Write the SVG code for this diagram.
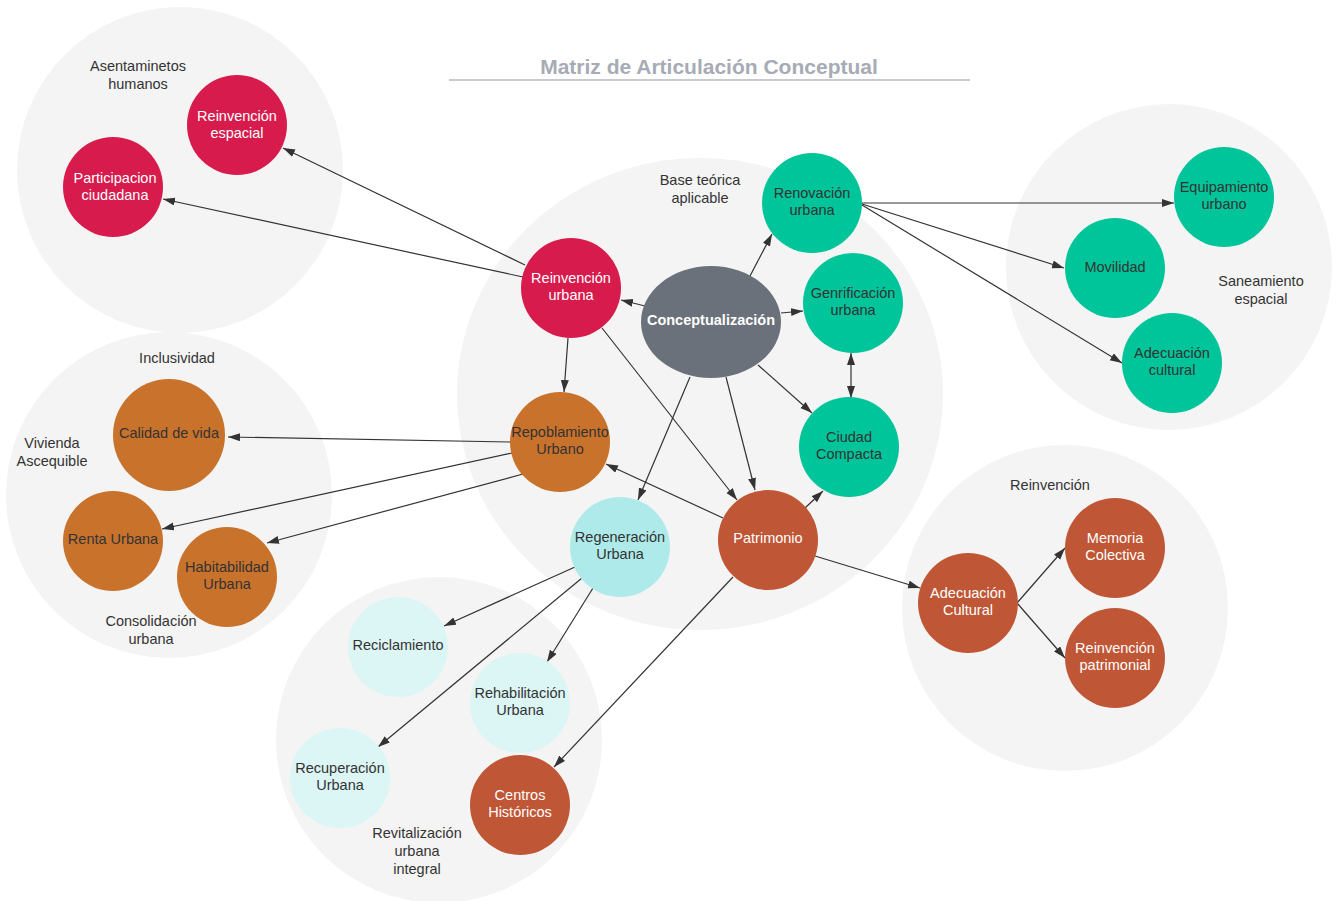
<svg xmlns="http://www.w3.org/2000/svg" width="1338" height="901" viewBox="0 0 1338 901">
<style>
text{font-family:"Liberation Sans",Arial,sans-serif;font-size:14.5px;text-anchor:middle;dominant-baseline:central}
.bg{fill:#f4f4f4}
.lbl{fill:#333333}
.dk{fill:#333333}
.wt{fill:#ffffff}
.red{fill:#d81b4d}
.grn{fill:#00c49a}
.org{fill:#c8722c}
.rst{fill:#bf5736}
.cy1{fill:#aeeaea}
.cy2{fill:#dcf5f5}
.edge line{stroke:#333333;stroke-width:1.2;fill:none;marker-end:url(#ah)}
</style>
<defs>
<marker id="ah" markerUnits="userSpaceOnUse" markerWidth="13" markerHeight="9" refX="12" refY="4" orient="auto"><path d="M0,0 L12,4 L0,8 z" fill="#333333"/></marker>
<marker id="ahs" markerUnits="userSpaceOnUse" markerWidth="13" markerHeight="9" refX="12" refY="4" orient="auto-start-reverse"><path d="M0,0 L12,4 L0,8 z" fill="#333333"/></marker>
</defs>
<rect width="1338" height="901" fill="#ffffff"/>
<g id="backgrounds">
<circle class="bg" cx="180" cy="170" r="163"/>
<circle class="bg" cx="169" cy="495" r="163"/>
<ellipse class="bg" cx="700" cy="394" rx="243" ry="236"/>
<circle class="bg" cx="1169" cy="267" r="163"/>
<circle class="bg" cx="1065" cy="608" r="163"/>
<circle class="bg" cx="439" cy="740" r="163"/>
</g>
<g id="title">
<text x="709" y="66" style="font-size:21px;font-weight:bold;fill:#a6abb5">Matriz de Articulación Conceptual</text>
<line x1="449" y1="80" x2="970" y2="80" stroke="#b5b9c2" stroke-width="1.5"/>
</g>
<g id="group-labels">
<text class="lbl" x="138" y="66">Asentaminetos</text><text class="lbl" x="138" y="84">humanos</text>
<text class="lbl" x="700" y="180">Base teórica</text><text class="lbl" x="700" y="198">aplicable</text>
<text class="lbl" x="1261" y="281">Saneamiento</text><text class="lbl" x="1261" y="299">espacial</text>
<text class="lbl" x="177" y="358">Inclusividad</text>
<text class="lbl" x="52" y="443">Vivienda</text><text class="lbl" x="52" y="461">Ascequible</text>
<text class="lbl" x="151" y="621">Consolidación</text><text class="lbl" x="151" y="639">urbana</text>
<text class="lbl" x="1050" y="485">Reinvención</text>
<text class="lbl" x="417" y="833">Revitalización</text><text class="lbl" x="417" y="851">urbana</text><text class="lbl" x="417" y="869">integral</text>
</g>
<g id="connectors" class="edge">
<line x1="525" y1="265" x2="283" y2="148"/>
<line x1="523" y1="277" x2="163" y2="199"/>
<line x1="645" y1="306" x2="621" y2="300"/>
<line x1="750" y1="276" x2="772" y2="234"/>
<line x1="781" y1="313" x2="803" y2="311"/>
<line x1="851" y1="353" x2="851" y2="398" style="marker-start:url(#ahs)"/>
<line x1="758" y1="365" x2="812" y2="413"/>
<line x1="726" y1="377" x2="755" y2="490"/>
<line x1="690" y1="377" x2="638" y2="500"/>
<line x1="568" y1="338" x2="564" y2="392"/>
<line x1="602" y1="328" x2="737" y2="500"/>
<line x1="723" y1="518" x2="606" y2="464"/>
<line x1="805" y1="508" x2="823" y2="491"/>
<line x1="815" y1="556" x2="920" y2="588"/>
<line x1="733" y1="577" x2="554" y2="767"/>
<line x1="511" y1="442" x2="228" y2="437"/>
<line x1="512" y1="453" x2="162" y2="529"/>
<line x1="523" y1="474" x2="267" y2="543"/>
<line x1="862" y1="203" x2="1174" y2="203"/>
<line x1="862" y1="204" x2="1064" y2="268"/>
<line x1="862" y1="205" x2="1122" y2="363"/>
<line x1="575" y1="567" x2="444" y2="626"/>
<line x1="582" y1="578" x2="378" y2="747"/>
<line x1="593" y1="588" x2="547" y2="662"/>
<line x1="1017" y1="603" x2="1065" y2="548"/>
<line x1="1017" y1="603" x2="1065" y2="658"/>
</g>
<g id="n-reinvencion-espacial"><circle class="red" cx="237" cy="125" r="50"/><text class="wt" x="237" y="116">Reinvención</text><text class="wt" x="237" y="133">espacial</text></g>
<g id="n-participacion"><circle class="red" cx="113" cy="187" r="50"/><text class="wt" x="115" y="178">Participacion</text><text class="wt" x="115" y="195">ciudadana</text></g>
<g id="n-reinvencion-urbana"><circle class="red" cx="571" cy="288" r="50"/><text class="wt" x="571" y="278">Reinvención</text><text class="wt" x="571" y="295">urbana</text></g>
<g id="n-conceptualizacion"><ellipse cx="711" cy="322" rx="70" ry="56" fill="#6b717a"/><text class="wt" x="711" y="320" style="font-weight:bold">Conceptualización</text></g>
<g id="n-renovacion"><circle class="grn" cx="812" cy="203" r="50"/><text class="dk" x="812" y="193">Renovación</text><text class="dk" x="812" y="210">urbana</text></g>
<g id="n-genrificacion"><circle class="grn" cx="853" cy="303" r="50"/><text class="dk" x="853" y="293">Genrificación</text><text class="dk" x="853" y="310">urbana</text></g>
<g id="n-ciudad-compacta"><circle class="grn" cx="849" cy="447" r="50"/><text class="dk" x="849" y="437">Ciudad</text><text class="dk" x="849" y="454">Compacta</text></g>
<g id="n-equipamiento"><circle class="grn" cx="1224" cy="197" r="50"/><text class="dk" x="1224" y="187">Equipamiento</text><text class="dk" x="1224" y="204">urbano</text></g>
<g id="n-movilidad"><circle class="grn" cx="1115" cy="268" r="50"/><text class="dk" x="1115" y="267">Movilidad</text></g>
<g id="n-adecuacion-cultural-v"><circle class="grn" cx="1172" cy="363" r="50"/><text class="dk" x="1172" y="353">Adecuación</text><text class="dk" x="1172" y="370">cultural</text></g>
<g id="n-repoblamiento"><circle class="org" cx="560" cy="442" r="50"/><text class="dk" x="560" y="432">Repoblamiento</text><text class="dk" x="560" y="449">Urbano</text></g>
<g id="n-calidad"><circle class="org" cx="169" cy="435" r="56"/><text class="dk" x="169" y="433">Calidad de vida</text></g>
<g id="n-renta"><circle class="org" cx="113" cy="541" r="50"/><text class="dk" x="113" y="539">Renta Urbana</text></g>
<g id="n-habitabilidad"><circle class="org" cx="227" cy="577" r="50"/><text class="dk" x="227" y="567">Habitabilidad</text><text class="dk" x="227" y="584">Urbana</text></g>
<g id="n-patrimonio"><circle class="rst" cx="768" cy="540" r="50"/><text class="wt" x="768" y="538">Patrimonio</text></g>
<g id="n-centros"><circle class="rst" cx="520" cy="805" r="50"/><text class="wt" x="520" y="795">Centros</text><text class="wt" x="520" y="812">Históricos</text></g>
<g id="n-adecuacion-cultural-r"><circle class="rst" cx="968" cy="603" r="50"/><text class="wt" x="968" y="593">Adecuación</text><text class="wt" x="968" y="610">Cultural</text></g>
<g id="n-memoria"><circle class="rst" cx="1115" cy="548" r="50"/><text class="wt" x="1115" y="538">Memoria</text><text class="wt" x="1115" y="555">Colectiva</text></g>
<g id="n-reinvencion-patrimonial"><circle class="rst" cx="1115" cy="658" r="50"/><text class="wt" x="1115" y="648">Reinvención</text><text class="wt" x="1115" y="665">patrimonial</text></g>
<g id="n-regeneracion"><circle class="cy1" cx="620" cy="547" r="50"/><text class="dk" x="620" y="537">Regeneración</text><text class="dk" x="620" y="554">Urbana</text></g>
<g id="n-reciclamiento"><circle class="cy2" cx="398" cy="647" r="50"/><text class="dk" x="398" y="645">Reciclamiento</text></g>
<g id="n-rehabilitacion"><circle class="cy2" cx="520" cy="703" r="50"/><text class="dk" x="520" y="693">Rehabilitación</text><text class="dk" x="520" y="710">Urbana</text></g>
<g id="n-recuperacion"><circle class="cy2" cx="340" cy="778" r="50"/><text class="dk" x="340" y="768">Recuperación</text><text class="dk" x="340" y="785">Urbana</text></g>
</svg>
